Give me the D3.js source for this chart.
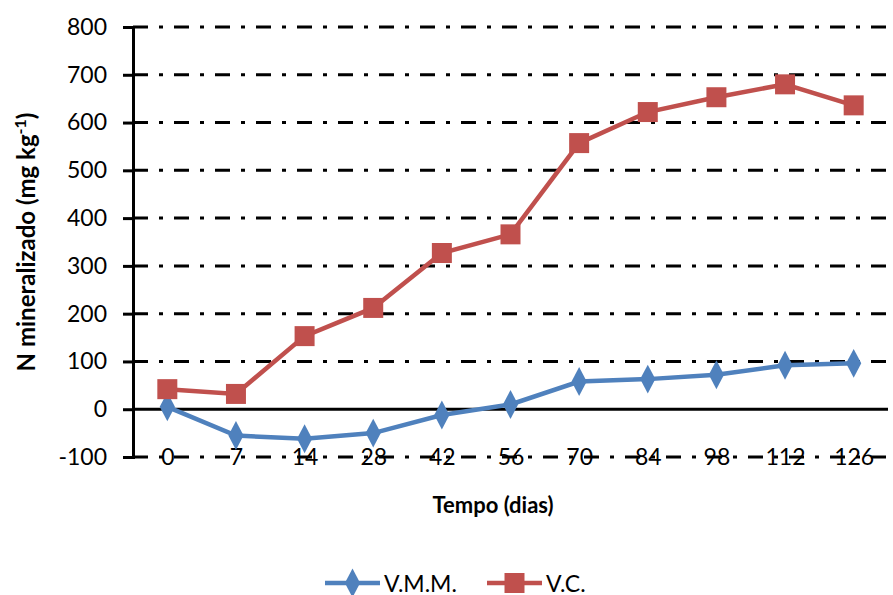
<!DOCTYPE html>
<html>
<head>
  <meta charset="utf-8">
  <title>N mineralizado</title>
  <style>
    body { margin: 0; background: #fff; }
    text { font-family: Lato, "Open Sans", sans-serif; fill: #000; }
  </style>
</head>
<body>
<script src="https://cdnjs.cloudflare.com/ajax/libs/d3/7.8.5/d3.min.js"></script>
<div id="vis"></div>
<script>

var dias = ["0", "7", "14", "28", "42", "56", "70", "84", "98", "112", "126"];
var vmm = [5, -55, -62, -50, -12, 10, 58, 63, 72, 92, 96];
var vc = [42, 32, 153, 212, 327, 366, 557, 622, 653, 680, 636];
var yTicks = [-100, 0, 100, 200, 300, 400, 500, 600, 700, 800];

var w = 893, h = 595;
var pLeft = 133, pRight = 888, pTop = 27, pBottom = 457;

var svg = d3.select("div#vis").append("svg")
  .attr("width", w)
  .attr("height", h);

var x = d3.scalePoint()
  .domain(dias)
  .range([pLeft, pRight])
  .padding(0.5);

var y = d3.scaleLinear()
  .domain([-100, 800])
  .range([pBottom, pTop]);

// grid lines (dash-dot), zero line solid
svg.selectAll("line.grid").data(yTicks.filter(function(d) { return d !== 0; })).enter()
  .append("line")
  .attr("class", "grid")
  .attr("x1", pLeft)
  .attr("x2", pRight)
  .attr("y1", function(d) { return y(d); })
  .attr("y2", function(d) { return y(d); })
  .attr("stroke", "#000")
  .attr("stroke-width", 3)
  .attr("stroke-dasharray", "15,11,4,11");

svg.append("line")
  .attr("x1", pLeft).attr("x2", pRight)
  .attr("y1", y(0)).attr("y2", y(0))
  .attr("stroke", "#000")
  .attr("stroke-width", 3);

// y axis
var yAxis = d3.axisLeft(y).tickValues(yTicks).tickSize(10).tickPadding(16)
  .tickFormat(function(d) { return String(d); });
var gy = svg.append("g").attr("transform", "translate(" + pLeft + ",0)").call(yAxis);
gy.select(".domain").attr("stroke", "#000").attr("stroke-width", 3);
gy.selectAll(".tick line").attr("stroke", "#000").attr("stroke-width", 3);
gy.selectAll(".tick text")
  .style("font-family", "Lato, sans-serif")
  .style("font-size", "23px")
  .attr("fill", "#222");

// x labels on the -100 line
var xAxis = d3.axisBottom(x).tickSize(0).tickPadding(0);
var gx = svg.append("g").attr("transform", "translate(0," + pBottom + ")").call(xAxis);
gx.select(".domain").remove();
gx.selectAll(".tick text")
  .attr("dy", "0.36em")
  .attr("y", 0)
  .style("font-family", "Lato, sans-serif")
  .style("font-size", "23px")
  .attr("fill", "#222");

// titles
var yt = svg.append("text")
  .attr("transform", "translate(35,242) rotate(-90)")
  .attr("text-anchor", "middle")
  .style("font-size", "24px")
  .style("font-weight", "bold");
yt.append("tspan").text("N mineralizado  (mg kg");
yt.append("tspan").attr("baseline-shift", "super").style("font-size", "16px").text("-1");
yt.append("tspan").text(")");

svg.append("text")
  .attr("x", 493)
  .attr("y", 513)
  .attr("text-anchor", "middle")
  .style("font-size", "22px")
  .style("font-weight", "bold")
  .text("Tempo (dias)");

// series
var series = [
  { name: "V.M.M.", values: vmm, color: "#4F81BD", shape: d3.symbolDiamond, size: 200 },
  { name: "V.C.", values: vc, color: "#C0504D", shape: d3.symbolSquare, size: 400 }
];

var line = d3.line()
  .x(function(d, i) { return x(dias[i]); })
  .y(function(d) { return y(d); });

function markerT(s, px, py) {
  return "translate(" + px + "," + py + ")" + (s.shape === d3.symbolDiamond ? " scale(1,1.1)" : "");
}

series.forEach(function(s) {
  svg.append("path")
    .attr("d", line(s.values))
    .attr("fill", "none")
    .attr("stroke", s.color)
    .attr("stroke-width", 4.5);

  svg.selectAll(null).data(s.values).enter()
    .append("path")
    .attr("d", d3.symbol().type(s.shape).size(s.size))
    .attr("transform", function(d, i) { return markerT(s, x(dias[i]), y(d)); })
    .attr("fill", s.color);
});

// legend
var legend = [
  { x1: 325, x2: 380, tx: 384 },
  { x1: 487, x2: 542, tx: 546 }
];
series.forEach(function(s, i) {
  var l = legend[i], ly = 583;
  svg.append("line")
    .attr("x1", l.x1).attr("x2", l.x2)
    .attr("y1", ly).attr("y2", ly)
    .attr("stroke", s.color)
    .attr("stroke-width", 4.5);
  svg.append("path")
    .attr("d", d3.symbol().type(s.shape).size(s.size))
    .attr("transform", markerT(s, (l.x1 + l.x2) / 2, ly))
    .attr("fill", s.color);
  svg.append("text")
    .attr("x", l.tx)
    .attr("y", ly + 9)
    .style("font-size", "23px")
    .attr("fill", "#222")
    .text(s.name);
});

</script>
</body>
</html>
